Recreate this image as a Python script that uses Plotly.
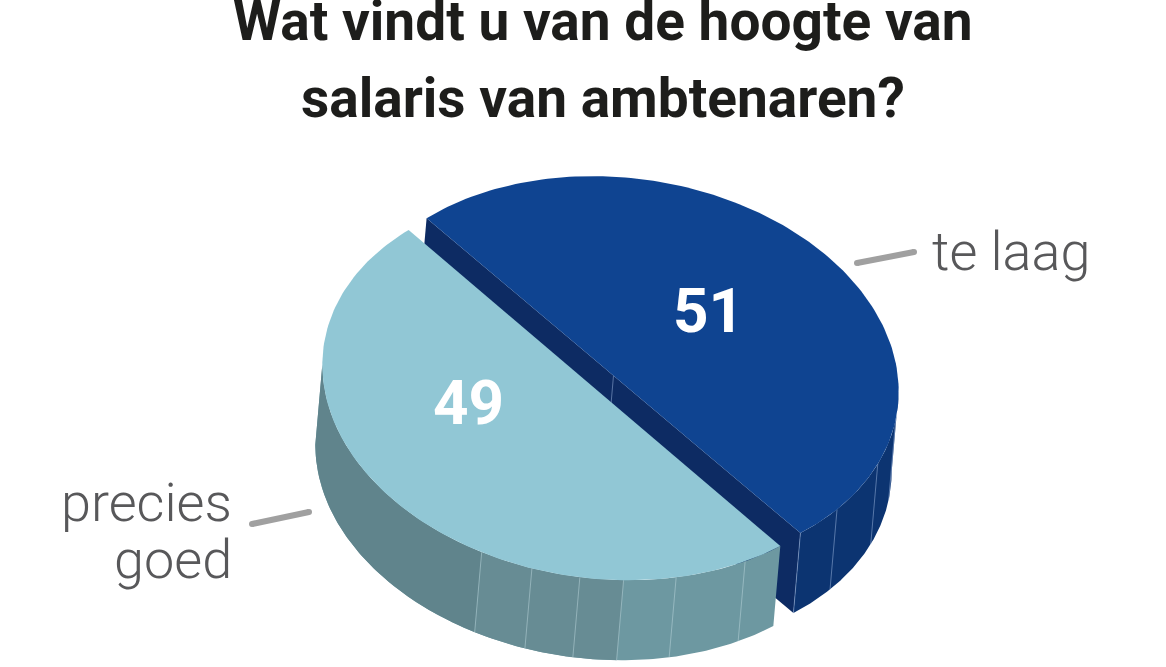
import numpy as np
import plotly.graph_objects as go

# --- data ---
categories = ["te laag", "precies goed"]
values = [51, 49]
value_labels = ["51", "49"]
title_lines = ["Wat vindt u van de hoogte van", "salaris van ambtenaren?"]

# --- style / geometry of the drawing ---
W, H = 1166, 667
RA, RB = 280, 194
TILT = np.radians(7.7)
CENTERS = [(620, 372), (601, 384.4)]
DEPTH = (-7, 80)
START_DEG = [139.3, -44.6]
TOP = ["#0f4491", "#91c7d5"]
CUT = "#0d2b63"
RIM = ["#0c3471", "#6d98a1"]
RIM_SHADES = ["#60848c", "#678c94"]
SEAM = ["rgba(150,175,215,0.55)", "rgba(190,215,222,0.5)"]
FONT = "Roboto, sans-serif"

fig = go.Figure()


def arc(cx, cy, a0, a1, n=160):
    t = np.radians(np.linspace(a0, a1, n))
    x = RA * np.cos(t) * np.cos(TILT) + RB * np.sin(t) * np.sin(TILT)
    y = RA * np.cos(t) * np.sin(TILT) - RB * np.sin(t) * np.cos(TILT)
    return cx + x, cy + y


def point(cx, cy, a):
    x, y = arc(cx, cy, a, a, 1)
    return x[0], y[0]


def poly(x, y, color, name):
    fig.add_trace(go.Scatter(x=list(x), y=list(y), mode="lines", fill="toself",
                             fillcolor=color, line=dict(width=0, color=color),
                             hoverinfo="text", text=name, showlegend=False))


def band(cx, cy, a0, a1, color, name):
    x, y = arc(cx, cy, a0, a1)
    poly(list(x) + list(x[::-1] + DEPTH[0]), list(y) + list(y[::-1] + DEPTH[1]), color, name)


def seam_at(px, py, color):
    fig.add_trace(go.Scatter(x=[px, px + DEPTH[0]], y=[py, py + DEPTH[1]],
                             mode="lines", line=dict(width=1, color=color),
                             hoverinfo="skip", showlegend=False))


total = sum(values)
span = [v / total * 360 for v in values]
a_start = START_DEG
a_end = [START_DEG[0] - span[0], START_DEG[1] - span[1]]

# dark slice: cut face, rim, seams, top
cx, cy = CENTERS[0]
ax, ay = point(cx, cy, a_start[0])
bx, by = point(cx, cy, a_end[0])
poly([ax, bx, bx + DEPTH[0], ax + DEPTH[0]],
     [ay, by, by + DEPTH[1], ay + DEPTH[1]], CUT, categories[0])
band(cx, cy, 5.4, a_end[0], RIM[0], categories[0])
seam_at((ax + bx) / 2, (ay + by) / 2, SEAM[0])
for d in [a_end[0], -33.5, -17, -3]:
    seam_at(*point(cx, cy, d), SEAM[0])
x, y = arc(cx, cy, a_start[0], a_end[0])
poly(x, y, TOP[0], categories[0])

# light slice: rim, seams, top
cx, cy = CENTERS[1]
band(cx, cy, -174.7, a_start[1], RIM[1], categories[1])
band(cx, cy, -174.7, -110, RIM_SHADES[0], categories[1])
band(cx, cy, -110, -80, RIM_SHADES[1], categories[1])
for d in [-110, -99, -89, -80, -69, -53.5]:
    seam_at(*point(cx, cy, d), SEAM[1])
x, y = arc(cx, cy, a_start[1], a_end[1])
poly(x, y, TOP[1], categories[1])

# leader lines
for lx, ly in [((857, 914), (263, 252)), ((252, 309), (524, 512))]:
    fig.add_trace(go.Scatter(x=list(lx), y=list(ly), mode="lines+markers",
                             line=dict(color="#a0a0a0", width=6),
                             marker=dict(color="#a0a0a0", size=6),
                             hoverinfo="skip", showlegend=False))

ann = []
for text, yy in zip(title_lines, [21, 98]):
    ann.append(dict(x=603, y=yy, text=f"<b>{text}</b>", showarrow=False, xanchor="center", yanchor="middle",
                    font=dict(family=FONT, size=55, color="#1d1d1b")))
ann.append(dict(x=930, y=251, text=categories[0], showarrow=False, xanchor="left", yanchor="middle",
                font=dict(family=FONT, size=54, color="#58585a", weight=300)))
for text, yy in zip(categories[1].split(" "), [502, 559]):
    ann.append(dict(x=234, y=yy, text=text, showarrow=False, xanchor="right", yanchor="middle",
                    font=dict(family=FONT, size=54, color="#58585a", weight=300)))
for text, xx, yy in zip(value_labels, [708, 468], [310, 402]):
    ann.append(dict(x=xx, y=yy, text=f"<b>{text}</b>", showarrow=False, xanchor="center", yanchor="middle",
                    font=dict(family=FONT, size=62, color="#ffffff")))

fig.update_layout(
    width=W, height=H, margin=dict(l=0, r=0, t=0, b=0),
    paper_bgcolor="white", plot_bgcolor="white", showlegend=False,
    xaxis=dict(range=[0, W], visible=False, fixedrange=True),
    yaxis=dict(range=[H, 0], visible=False, fixedrange=True),
    annotations=ann,
)
fig.write_html("out.html", post_script="document.body.style.margin='0';", config={"displayModeBar": False})
